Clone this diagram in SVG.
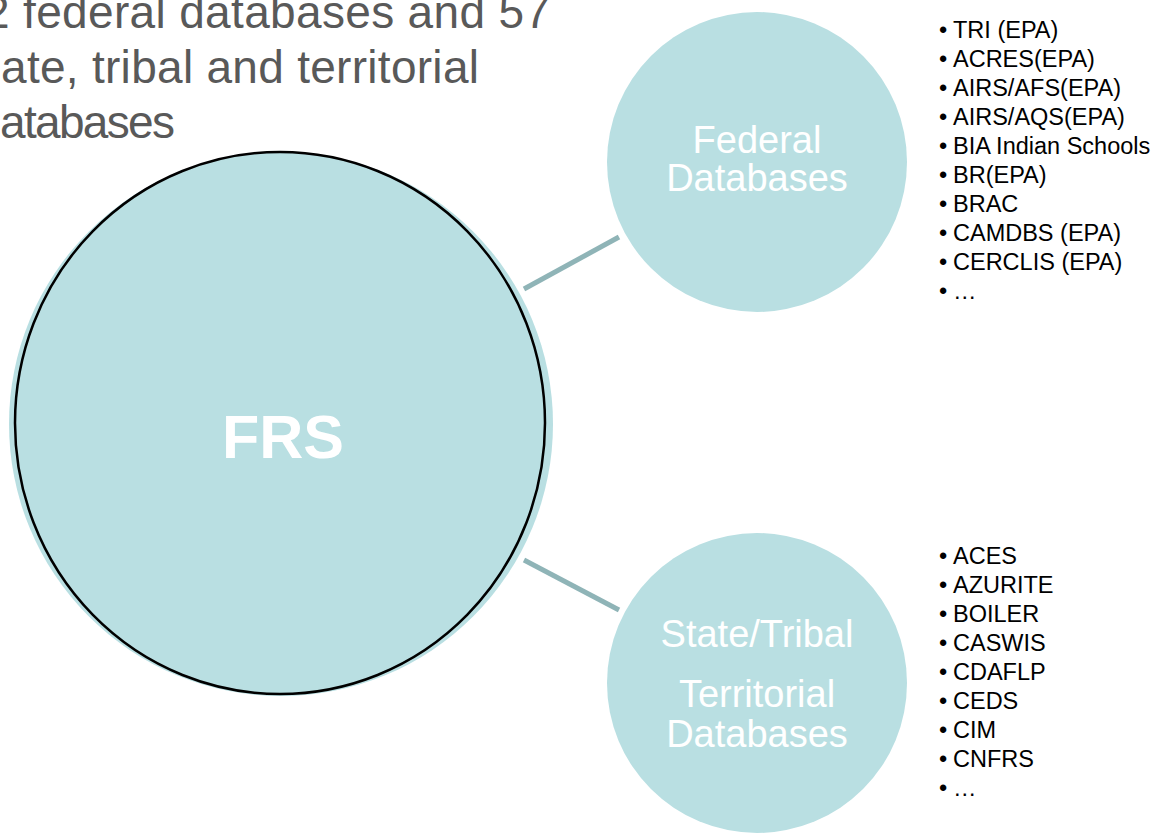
<svg xmlns="http://www.w3.org/2000/svg" width="1159" height="833" viewBox="0 0 1159 833">
<style>
.title{font-family:"Liberation Sans",Arial,sans-serif;font-size:46px;fill:#595959}
.node{fill:#b9dfe2}
.lbl{font-family:"Liberation Sans",Arial,sans-serif;font-size:38px;fill:#ffffff;text-anchor:middle}
.frs{font-family:"Liberation Sans",Arial,sans-serif;font-size:61px;font-weight:bold;fill:#ffffff;text-anchor:middle}
.item{font-family:"Liberation Sans",Arial,sans-serif;font-size:23.5px;fill:#000000}
.conn{stroke:#8fb4b7;stroke-width:5;fill:none}
</style>
<rect width="1159" height="833" fill="#ffffff"/>
<g id="title">
<text class="title" x="-16" y="28" textLength="566">2 federal databases and 57</text>
<text class="title" x="1" y="83" textLength="478">ate, tribal and territorial</text>
<text class="title" x="0" y="138" textLength="175">atabases</text>
</g>
<g id="connectors">
<line class="conn" x1="524" y1="289" x2="619" y2="237"/>
<line class="conn" x1="524" y1="560" x2="619" y2="610"/>
</g>
<g id="frs">
<circle class="node" cx="281" cy="424" r="272"/>
<ellipse cx="280" cy="423" rx="265" ry="271" fill="none" stroke="#000000" stroke-width="2.5"/>
<text class="frs" x="283" y="458">FRS</text>
</g>
<g id="federal">
<circle class="node" cx="757" cy="162" r="150"/>
<text class="lbl" x="757" y="153">Federal</text>
<text class="lbl" x="757" y="191">Databases</text>
</g>
<g id="state">
<circle class="node" cx="757" cy="683" r="150"/>
<text class="lbl" x="757" y="647">State/Tribal</text>
<text class="lbl" x="757" y="707">Territorial</text>
<text class="lbl" x="757" y="747">Databases</text>
</g>
<g id="federal-list" class="item">
<text x="939" y="38">•</text><text x="953" y="38">TRI (EPA)</text>
<text x="939" y="67">•</text><text x="953" y="67">ACRES(EPA)</text>
<text x="939" y="96">•</text><text x="953" y="96">AIRS/AFS(EPA)</text>
<text x="939" y="125">•</text><text x="953" y="125">AIRS/AQS(EPA)</text>
<text x="939" y="154">•</text><text x="953" y="154">BIA Indian Schools</text>
<text x="939" y="183">•</text><text x="953" y="183">BR(EPA)</text>
<text x="939" y="212">•</text><text x="953" y="212">BRAC</text>
<text x="939" y="241">•</text><text x="953" y="241">CAMDBS (EPA)</text>
<text x="939" y="270">•</text><text x="953" y="270">CERCLIS (EPA)</text>
<text x="939" y="299">•</text><text x="953" y="299">…</text>
</g>
<g id="state-list" class="item">
<text x="939" y="564">•</text><text x="953" y="564">ACES</text>
<text x="939" y="593">•</text><text x="953" y="593">AZURITE</text>
<text x="939" y="622">•</text><text x="953" y="622">BOILER</text>
<text x="939" y="651">•</text><text x="953" y="651">CASWIS</text>
<text x="939" y="680">•</text><text x="953" y="680">CDAFLP</text>
<text x="939" y="709">•</text><text x="953" y="709">CEDS</text>
<text x="939" y="738">•</text><text x="953" y="738">CIM</text>
<text x="939" y="767">•</text><text x="953" y="767">CNFRS</text>
<text x="939" y="796">•</text><text x="953" y="796">…</text>
</g>
</svg>
